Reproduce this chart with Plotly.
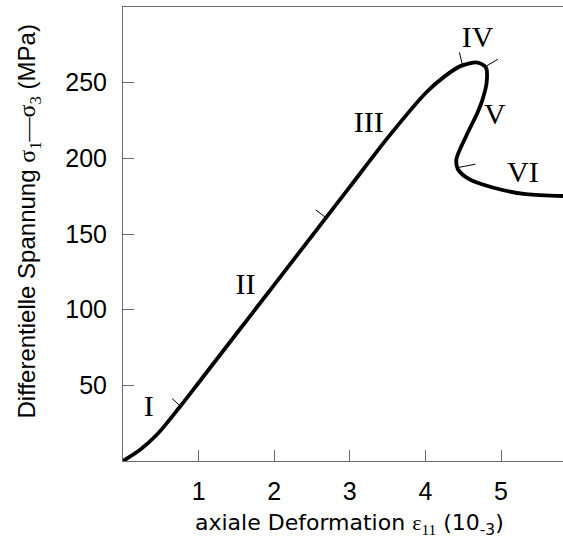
import plotly.graph_objects as go

# Curve: axial strain (10^-3) vs differential stress (MPa)
strain = [0.0, 0.23, 0.45, 0.74, 1.0, 1.5, 2.0, 2.5, 3.0, 3.5,
          4.01, 4.25, 4.47, 4.69, 4.80, 4.81, 4.75, 4.69, 4.54, 4.41, 4.43,
          4.58, 4.89, 5.33, 5.82]
stress = [0.0, 7.6, 17.5, 35.0, 51.7, 84.1, 116.4, 148.8, 181.1, 213.5,
          243.5, 254.0, 261.1, 263.3, 260.0, 250.0, 238.0, 230.3, 214.8, 199.4, 192.8,
          186.2, 180.7, 176.3, 175.1]

# Phase boundary marks (start/end points)
mark_x0 = [0.65, 2.55, 4.45, 4.81, 4.43]
mark_y0 = [41.3, 165.9, 270.0, 261.1, 193.9]
mark_x1 = [0.76, 2.70, 4.49, 4.96, 4.66]
mark_y1 = [36.2, 160.2, 261.6, 265.5, 196.1]

# Phase labels
phase_labels = ["I", "II", "III", "IV", "V", "VI"]
phase_x = [0.34, 1.62, 3.25, 4.69, 4.92, 5.29]
phase_y = [34.5, 115.6, 222.3, 278.3, 227.6, 189.3]

x_ticks = [1, 2, 3, 4, 5]
y_ticks = [50, 100, 150, 200, 250]

fig = go.Figure()

fig.add_trace(go.Scatter(
    x=strain, y=stress, mode="lines",
    line=dict(color="black", width=3.8, shape="spline", smoothing=0.8),
    hoverinfo="skip", showlegend=False))

seg_x, seg_y = [], []
for a, b, c, d in zip(mark_x0, mark_y0, mark_x1, mark_y1):
    seg_x += [a, c, None]
    seg_y += [b, d, None]
fig.add_trace(go.Scatter(
    x=seg_x, y=seg_y, mode="lines",
    line=dict(color="black", width=1),
    hoverinfo="skip", showlegend=False))

fig.add_trace(go.Scatter(
    x=phase_x, y=phase_y, mode="text", text=phase_labels,
    textposition="middle center",
    textfont=dict(family="Liberation Serif, Times New Roman, serif", size=30, color="black"),
    hoverinfo="skip", showlegend=False))

axis_col = "#6a6a6a"
tick_font = dict(family="Liberation Sans, Arial", size=25, color="black")
fig.update_xaxes(
    range=[0, 5.82], tickvals=x_ticks, ticktext=[str(v) for v in x_ticks],
    ticks="inside", ticklen=11, tickwidth=1, tickcolor=axis_col,
    showline=True, linecolor=axis_col, linewidth=1, mirror=True,
    showgrid=False, zeroline=False, ticklabelstandoff=8,
    tickfont=tick_font)
fig.update_yaxes(
    range=[0, 300], tickvals=y_ticks, ticktext=[str(v) for v in y_ticks],
    ticks="inside", ticklen=11, tickwidth=1, tickcolor=axis_col,
    showline=True, linecolor=axis_col, linewidth=1, mirror=False,
    showgrid=False, zeroline=False, ticklabelstandoff=10,
    tickfont=tick_font)

fig.add_annotation(
    xref="paper", yref="paper", x=0.514, y=0, yshift=-63,
    text="axiale Deformation <span style='font-family:Liberation Serif'>ε<sub>11</sub></span> (10<sub>-3</sub>)",
    showarrow=False, xanchor="center", yanchor="middle",
    font=dict(family="DejaVu Sans, Liberation Sans, Arial", size=22, color="black"))
fig.add_annotation(
    xref="paper", yref="paper", x=0, xshift=-94, y=0.5275,
    text="Differentielle Spannung <span style='font-family:Liberation Serif'>σ<sub>1</sub>—σ<sub>3</sub></span> (MPa)",
    textangle=-90, showarrow=False, xanchor="center", yanchor="middle",
    font=dict(family="Liberation Sans, Arial", size=24, color="black"))

fig.update_layout(
    width=563, height=543,
    margin=dict(l=122.5, r=0, t=7, b=81.5, pad=0),
    paper_bgcolor="white", plot_bgcolor="white",
    font=dict(family="Liberation Sans, Arial, sans-serif", size=24, color="black"),
    showlegend=False)

fig.write_html("out.html")
